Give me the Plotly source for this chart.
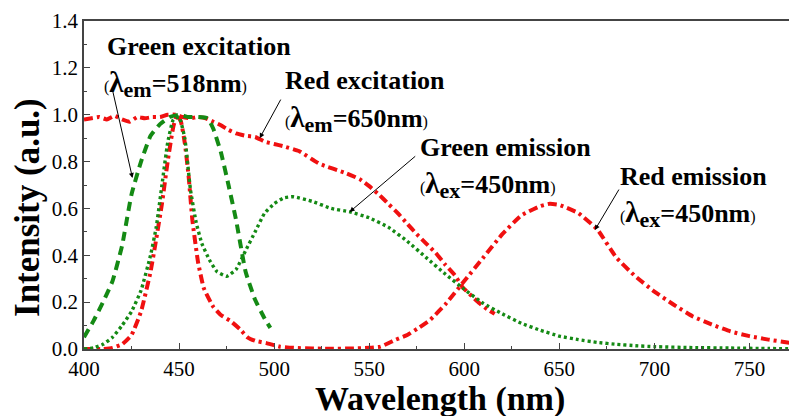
import plotly.graph_objects as go

# ---------------- data ----------------
gex_x = [400, 405, 410, 415, 420, 425, 430, 435, 440, 445, 450, 455, 460, 465, 468, 472, 476, 480, 485, 490, 495, 498]
gex_y = [0.05, 0.12, 0.2, 0.29, 0.44, 0.66, 0.80, 0.91, 0.96, 0.99, 1.0, 0.99, 0.99, 0.985, 0.94, 0.84, 0.70, 0.55, 0.33, 0.21, 0.13, 0.09]

gem_x = [400, 405, 410, 415, 420, 425, 430, 435, 438, 441, 444, 447, 450, 453, 456, 459, 462, 466, 470, 475, 480, 485,
         490, 495, 500, 505, 510, 520, 530, 540, 550, 560, 570, 580, 590, 600, 610, 620, 630, 640, 650, 660, 670, 680,
         690, 700, 720, 740, 760, 775]
gem_y = [0.0, 0.005, 0.02, 0.05, 0.1, 0.16, 0.25, 0.4, 0.52, 0.7, 0.88, 0.98, 0.99, 0.9, 0.68, 0.54, 0.45, 0.38, 0.33,
         0.31, 0.34, 0.42, 0.5, 0.58, 0.62, 0.645, 0.65, 0.63, 0.6, 0.585, 0.56, 0.52, 0.46, 0.39, 0.32, 0.255, 0.195,
         0.15, 0.11, 0.08, 0.055, 0.04, 0.028, 0.02, 0.014, 0.01, 0.006, 0.004, 0.002, 0.001]

rex_x = [400, 404, 408, 412, 416, 420, 424, 428, 432, 436, 440, 444, 448, 452, 456, 460, 464, 468, 472, 476, 480, 485,
         490, 495, 500, 505, 513, 524, 538, 545, 550, 555, 560, 565, 570, 575, 580, 585, 590, 595, 599, 604, 608, 612, 616]
rex_y = [0.98, 0.985, 0.99, 0.98, 0.995, 0.98, 0.97, 0.99, 0.985, 0.99, 0.99, 1.0, 1.0, 0.99, 0.985, 0.99, 0.985, 0.97,
         0.955, 0.935, 0.92, 0.91, 0.905, 0.885, 0.875, 0.865, 0.845, 0.79, 0.75, 0.725, 0.695, 0.66, 0.62, 0.58, 0.535,
         0.49, 0.45, 0.41, 0.36, 0.315, 0.265, 0.225, 0.195, 0.17, 0.15]

rem_x = [400, 410, 415, 420, 425, 430, 435, 438, 441, 444, 447, 449, 451, 453, 455, 457, 460, 463, 468, 472, 477, 482,
         486, 490, 496, 503, 510, 520, 530, 540, 550, 556, 564, 570, 576, 582, 590, 600, 610, 620, 630, 640, 645, 650,
         660, 670, 680, 690, 700, 710, 720, 730, 740, 750, 760, 770, 775]
rem_y = [0.0, 0.0, 0.005, 0.02, 0.06, 0.16, 0.33, 0.47, 0.62, 0.8, 0.95, 1.0, 0.97, 0.88, 0.74, 0.55, 0.37, 0.26, 0.18,
         0.145, 0.12, 0.085, 0.05, 0.035, 0.025, 0.01, 0.005, 0.002, 0.001, 0.002, 0.005, 0.01, 0.04, 0.06, 0.09,
         0.124, 0.19, 0.29, 0.39, 0.49, 0.57, 0.61, 0.62, 0.615, 0.58, 0.51, 0.39, 0.31, 0.245, 0.19, 0.14, 0.105,
         0.075, 0.055, 0.04, 0.028, 0.022]

x_ticks = [400, 450, 500, 550, 600, 650, 700, 750]
y_ticks = [0.0, 0.2, 0.4, 0.6, 0.8, 1.0, 1.2, 1.4]

RED = "#f01010"
GREEN = "#148a14"
FONT = "Liberation Serif"

fig = go.Figure()
fig.add_trace(go.Scatter(x=rex_x, y=rex_y, mode="lines",
                         line=dict(color=RED, width=4, dash="9px,4px,3px,4px", shape="spline", smoothing=0.4)))
fig.add_trace(go.Scatter(x=rem_x, y=rem_y, mode="lines",
                         line=dict(color=RED, width=4, dash="9px,4px,3px,4px", shape="spline", smoothing=0.4)))
fig.add_trace(go.Scatter(x=gex_x, y=gex_y, mode="lines",
                         line=dict(color=GREEN, width=4, dash="9px,6px", shape="spline", smoothing=0.4)))
fig.add_trace(go.Scatter(x=gem_x, y=gem_y, mode="lines",
                         line=dict(color=GREEN, width=3.4, dash="3px,3px", shape="spline", smoothing=0.4)))

P = '<span style="font-size:16px;font-weight:normal">%s</span>'


def lab(sub, val):
    return ((P % "(") + '<span style="font-size:29px">λ</span><sub><span style="font-size:22px">' + sub
            + "</span></sub>=" + val + (P % ")"))


texts = [
    ("Green excitation", 410.8, 1.293),
    (lab("em", "518nm"), 409.7, 1.13),
    ("Red excitation", 504.5, 1.144),
    (lab("em", "650nm"), 504.5, 0.98),
    ("Green emission", 575.5, 0.862),
    (lab("ex", "450nm"), 575.5, 0.70),
    ("Red emission", 680.8, 0.738),
    (lab("ex", "450nm"), 680.8, 0.578),
]
for t, x, y in texts:
    fig.add_annotation(x=x, y=y, xref="x", yref="y", text=t, showarrow=False, xanchor="left", yanchor="middle",
                       font=dict(family=FONT, size=26, color="black", weight="bold"))

arrows = [
    (415, 1.105, 425.5, 0.73),
    (503.9, 1.071, 492.4, 0.90),
    (575, 0.828, 539.7, 0.585),
    (681.8, 0.687, 668.7, 0.508),
]
for ax, ay, x, y in arrows:
    fig.add_annotation(x=x, y=y, ax=ax, ay=ay, xref="x", yref="y", axref="x", ayref="y", text="",
                       showarrow=True, arrowhead=2, arrowsize=1, arrowwidth=1, arrowcolor="black")

fig.add_annotation(text="Wavelength (nm)", xref="paper", yref="paper", x=0.499, y=-0.152, showarrow=False,
                   xanchor="center", yanchor="middle", font=dict(family=FONT, size=34, color="black", weight="bold"))
fig.add_annotation(text="Intensity (a.u.)", xref="paper", yref="paper", x=-0.0785, y=0.43, showarrow=False,
                   textangle=-90, xanchor="center", yanchor="middle",
                   font=dict(family=FONT, size=35, color="black", weight="bold"))

# the page body has an 8px margin, so the figure is sized/offset to compensate
fig.update_layout(
    width=789, height=408,
    margin=dict(l=76, r=0, t=13, b=67),
    paper_bgcolor="white", plot_bgcolor="white",
    showlegend=False,
    font=dict(family=FONT, size=21, color="black"),
)
fig.update_xaxes(range=[400, 775], tickvals=x_ticks, ticktext=[str(v) for v in x_ticks],
                 showgrid=False, zeroline=False, showline=True, linecolor="#444", linewidth=1.5, mirror=True,
                 ticks="inside", ticklen=6, tickcolor="#444", tickfont=dict(family=FONT, size=21),
                 minor=dict(ticks="inside", ticklen=3, dtick=25, tick0=400, tickcolor="#444", showgrid=False))
fig.update_yaxes(range=[0, 1.4], tickvals=y_ticks, ticktext=["%.1f" % v for v in y_ticks],
                 showgrid=False, zeroline=False, showline=True, linecolor="#444", linewidth=1.5,
                 ticks="inside", ticklen=6, tickcolor="#444", tickfont=dict(family=FONT, size=21),
                 minor=dict(ticks="inside", ticklen=3, dtick=0.1, tick0=0, tickcolor="#444", showgrid=False))

fig.write_html("out.html")
